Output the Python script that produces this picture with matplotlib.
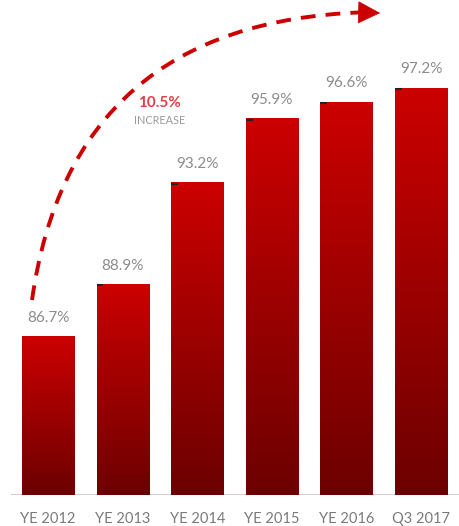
import numpy as np
import matplotlib
matplotlib.use("Agg")
import matplotlib.pyplot as plt
from matplotlib.patches import FancyArrowPatch

# datos
categorias = ["YE 2012", "YE 2013", "YE 2014", "YE 2015", "YE 2016", "Q3 2017"]
valores = [86.7, 88.9, 93.2, 95.9, 96.6, 97.2]
etiquetas = ["86.7%", "88.9%", "93.2%", "95.9%", "96.6%", "97.2%"]
aumento = "10.5%"
aumento_txt = "INCREASE"

plt.rcParams['font.family'] = ['Lato', 'DejaVu Sans']

fig = plt.figure(figsize=(4.6, 5.26), dpi=100)
ax = fig.add_axes([0, 0.059, 1, 0.941])

base = 80.0
ancho = 0.70
x = np.arange(len(categorias))

# degradado vertical de cada barra
grad = np.linspace(1, 0, 256).reshape(-1, 1)
cmap = matplotlib.colors.LinearSegmentedColormap.from_list("rojo", ["#6c0000", "#cc0000"])
barras = ax.bar(x, np.array(valores) - base, bottom=base, width=ancho, color="none", edgecolor="none")
for b in barras:
    x0, y0 = b.get_x(), b.get_y()
    ax.imshow(grad, cmap=cmap, extent=(x0, x0 + b.get_width(), y0, y0 + b.get_height()),
              aspect="auto", origin="upper", zorder=2)

# pequeñas marcas oscuras arriba a la izquierda
for i in range(1, len(valores)):
    ax.plot([x[i] - ancho / 2, x[i] - ancho / 2 + 0.09], [valores[i] - 0.04, valores[i] - 0.04],
            color="#222222", lw=1.5, solid_capstyle="butt", zorder=3)

# etiquetas de valores
for xi, v, t in zip(x, valores, etiquetas):
    ax.annotate(t, (xi, v), xytext=(0, 13.5), textcoords="offset points",
                ha="center", va="center", fontsize=11, color="#8c8c8c")

# eje
ax.axhline(base, xmin=0.026, xmax=0.996, color="#cfcfcf", lw=1.5, zorder=1)

ax.set_xlim(-0.643, 5.52)
ax.set_ylim(base, 100.92)
ax.set_xticks(x)
ax.set_xticklabels(categorias, fontsize=10.5, color="#7a7a7a")
ax.tick_params(axis="x", length=0, pad=12)
ax.set_yticks([])
for s in ax.spines.values():
    s.set_visible(False)

# flecha curva discontinua
rojo = "#cc0000"
curva = FancyArrowPatch((-0.214, 88.24), (4.22, 100.4),
                        connectionstyle="angle3,angleA=82,angleB=2",
                        arrowstyle="-", color=rojo, lw=2.8, capstyle="butt",
                        linestyle=(0, (3.8, 2.6)), shrinkA=0, shrinkB=0, zorder=4)
ax.add_patch(curva)
ax.annotate("", xy=(4.45, 100.37), xytext=(4.24, 100.39),
            arrowprops=dict(arrowstyle="-|>,head_length=0.75,head_width=0.38",
                            mutation_scale=20, color=rojo, lw=0.5,
                            shrinkA=0, shrinkB=0), zorder=4)

ax.text(1.5, 96.57, aumento, ha="center", va="center", fontsize=11, fontweight="bold", color="#e0404a")
ax.text(1.5, 95.84, aumento_txt, ha="center", va="center", fontsize=7.8, color="#9a9a9a")

fig.savefig("out.png", dpi=100)
